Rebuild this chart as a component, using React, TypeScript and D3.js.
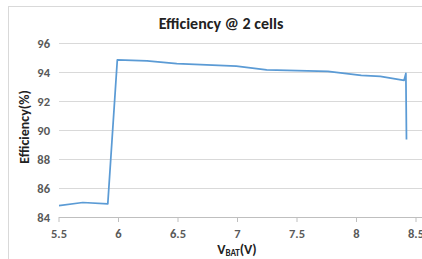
import React from "react";
import * as d3 from "d3";

const vbat = [5.5, 5.7, 5.91, 5.99, 6.24, 6.49, 6.99, 7.245, 7.76, 8.04, 8.2, 8.4, 8.415, 8.42];
const efficiency = [84.78, 85.0, 84.9, 94.83, 94.76, 94.58, 94.41, 94.14, 94.05, 93.77, 93.7, 93.43, 93.9, 89.34];
const xTicks = [5.5, 6, 6.5, 7, 7.5, 8, 8.5];
const yTicks = [84, 86, 88, 90, 92, 94, 96];

export default function App() {
  const W = 422, H = 259;
  const x = d3.scaleLinear().domain([5.5, 8.5]).range([59, 416]);
  const y = d3.scaleLinear().domain([84, 96]).range([217, 43]);
  const line = d3.line<number>().x((_, i) => x(vbat[i])).y((d) => y(d));
  const font = "Carlito, 'Liberation Sans', Arial, sans-serif";
  return (
    <svg width={W} height={H} style={{ position: "absolute", left: 0, top: 0 }}>
      <rect x={0} y={0} width={W} height={H} fill="#fff" />
      <rect x={8.5} y={6.5} width={420} height={260} fill="#fff" stroke="#d9d9d9" />
      <text x={221} y={29} textAnchor="middle" fontFamily={font} fontWeight="bold" fontSize={16} fill="#222">
        Efficiency @ 2 cells
      </text>
      {yTicks.map((t) => (
        <g key={t}>
          <line x1={59} x2={422} y1={y(t) + 0.5} y2={y(t) + 0.5} stroke="#d9d9d9" />
          <text x={50} y={y(t) + 4.5} textAnchor="end" fontFamily={font} fontSize={12.5} fontWeight="bold" fill="#595959">
            {t}
          </text>
        </g>
      ))}
      <line x1={59} x2={422} y1={217.5} y2={217.5} stroke="#bfbfbf" />
      {xTicks.map((t) => (
        <g key={t}>
          <line x1={x(t)} x2={x(t)} y1={217} y2={222} stroke="#bfbfbf" />
          <text x={x(t)} y={238} textAnchor="middle" fontFamily={font} fontSize={12.5} fontWeight="bold" fill="#595959">
            {t}
          </text>
        </g>
      ))}
      <path d={line(efficiency) || ""} fill="none" stroke="#5b9bd5" strokeWidth={1.75} strokeLinejoin="round" />
      <text x={237} y={254} textAnchor="middle" fontFamily={font} fontSize={14} fontWeight="bold" fill="#222">
        V<tspan fontSize={9} dy={2}>BAT</tspan><tspan dy={-2}>(V)</tspan>
      </text>
      <text transform="translate(29,127) rotate(-90)" textAnchor="middle" fontFamily={font} fontSize={14} fontWeight="bold" fill="#222">
        Efficiency(%)
      </text>
    </svg>
  );
}
